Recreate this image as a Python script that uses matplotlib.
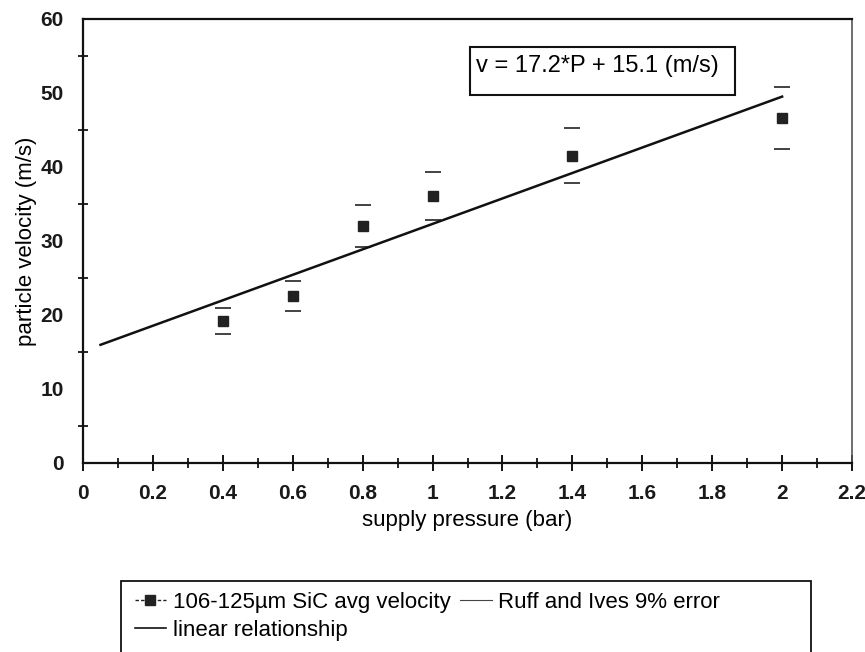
import matplotlib
matplotlib.use("Agg")
import matplotlib.pyplot as plt
from matplotlib.lines import Line2D
from matplotlib.patches import Rectangle
from matplotlib.ticker import MultipleLocator

plt.rcParams["font.family"] = ["Liberation Sans", "DejaVu Sans"]

# measured data
pressure = [0.4, 0.6, 0.8, 1.0, 1.4, 2.0]
velocity = [19.2, 22.6, 32.0, 36.1, 41.5, 46.6]
err_frac = 0.09
upper = [v * (1 + err_frac) for v in velocity]
lower = [v * (1 - err_frac) for v in velocity]

# linear fit v = 17.2*P + 15.1
fit_p = [0.05, 2.0]
fit_v = [17.2 * p + 15.1 for p in fit_p]

fig = plt.figure(figsize=(8.65, 6.52), dpi=100)
ax = fig.add_axes([0.096, 0.290, 0.889, 0.681])

ax.plot(pressure, velocity, "s", color="#222222", markersize=7.5, zorder=3)
ax.plot(pressure, upper, "_", color="#222222", markersize=12, markeredgewidth=1.2)
ax.plot(pressure, lower, "_", color="#222222", markersize=12, markeredgewidth=1.2)
ax.plot(fit_p, fit_v, "-", color="#111111", linewidth=1.8)

ax.set_xlim(0, 2.2)
ax.set_ylim(0, 60)
ax.xaxis.set_major_locator(MultipleLocator(0.2))
ax.xaxis.set_minor_locator(MultipleLocator(0.1))
ax.yaxis.set_major_locator(MultipleLocator(10))
ax.yaxis.set_minor_locator(MultipleLocator(5))
ax.set_xticklabels([f"{t:g}" for t in ax.get_xticks()])
ax.tick_params(axis="x", which="major", direction="inout", length=11, width=1.3, labelsize=15, pad=10)
ax.tick_params(axis="x", which="minor", direction="inout", length=7, width=1.2)
ax.tick_params(axis="y", which="major", direction="inout", length=0, labelsize=15, pad=14)
ax.tick_params(axis="y", which="minor", direction="inout", length=7, width=1.2)
for lbl in ax.get_xticklabels() + ax.get_yticklabels():
    lbl.set_fontweight("bold")
    lbl.set_color("#1a1a1a")

for s in ["left", "bottom", "top"]:
    ax.spines[s].set_linewidth(1.6)
    ax.spines[s].set_color("#111111")
ax.spines["right"].set_linewidth(1.2)
ax.spines["right"].set_color("#555555")

ax.set_xlabel("supply pressure (bar)", fontsize=16, labelpad=5)
ax.set_ylabel("particle velocity (m/s)", fontsize=16, labelpad=2)

# equation box
ax.add_patch(Rectangle((0.503, 0.829), 0.345, 0.108, transform=ax.transAxes,
                       facecolor="white", edgecolor="#111111", linewidth=1.5, zorder=4))
ax.text(0.511, 0.893, "v = 17.2*P + 15.1 (m/s)", transform=ax.transAxes,
        fontsize=17, va="center", ha="left", zorder=5)

# legend
fig.patches.append(Rectangle((0.140, -0.01), 0.798, 0.1195, transform=fig.transFigure,
                             facecolor="white", edgecolor="#111111", linewidth=1.3))
h_avg = Line2D([], [], color="#222222", linestyle="--", linewidth=1, marker="s", markersize=7,
               dashes=(2.5, 1.5))
h_err = Line2D([], [], color="#444444", linestyle="-", linewidth=0.8)
h_fit = Line2D([], [], color="#111111", linestyle="-", linewidth=1.2)
fig.legend([h_avg, h_fit, h_err],
           ["106-125µm SiC avg velocity", "linear relationship", "Ruff and Ives 9% error"],
           ncol=2, loc="upper left", bbox_to_anchor=(0.156, 1 - 592 / 652),
           fontsize=16, frameon=False,
           handlelength=1.4, handletextpad=0.3, columnspacing=0.45, borderpad=0.0,
           labelspacing=0.3, borderaxespad=0.0)

fig.savefig("out.png", dpi=100)
